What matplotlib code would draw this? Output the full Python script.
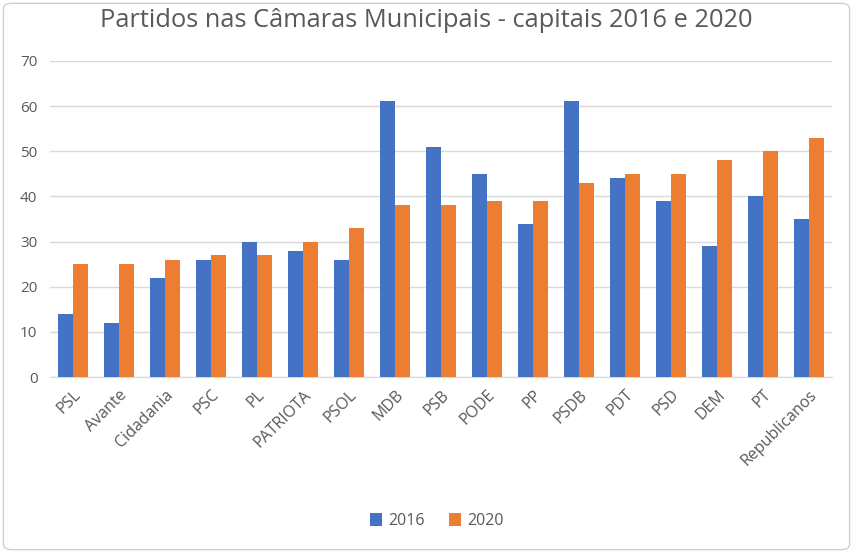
import numpy as np
import matplotlib
matplotlib.use('Agg')
import matplotlib.pyplot as plt
from matplotlib.patches import FancyBboxPatch

plt.rcParams['font.family'] = ['Open Sans', 'DejaVu Sans']

partidos = ['PSL', 'Avante', 'Cidadania', 'PSC', 'PL', 'PATRIOTA', 'PSOL', 'MDB',
            'PSB', 'PODE', 'PP', 'PSDB', 'PDT', 'PSD', 'DEM', 'PT', 'Republicanos']
v2016 = [14, 12, 22, 26, 30, 28, 26, 61, 51, 45, 34, 61, 44, 39, 29, 40, 35]
v2020 = [25, 25, 26, 27, 27, 30, 33, 38, 38, 39, 39, 43, 45, 45, 48, 50, 53]

BLUE = '#4472C4'
ORANGE = '#ED7D31'
TXT = '#595959'
GRID = '#D9D9D9'

fig = plt.figure(figsize=(8.53, 5.53), dpi=100, facecolor='white')
ax = fig.add_axes([0.0586, 0.318, 0.917, 0.572])

x = np.arange(len(partidos))
w = 0.33
ax.bar(x - w/2, v2016, w, color=BLUE, label='2016', zorder=3)
ax.bar(x + w/2, v2020, w, color=ORANGE, label='2020', zorder=3)

ax.set_xlim(-0.5, len(partidos) - 0.5)
ax.set_ylim(0, 70)
ax.set_yticks(range(0, 71, 10))
ax.yaxis.grid(True, color=GRID, linewidth=1, zorder=0)
ax.tick_params(axis='y', length=0, colors=TXT, labelsize=11, pad=9)
ax.tick_params(axis='x', length=0, colors=TXT, labelsize=11.5, pad=7)
ax.set_xticks(x)
ax.set_xticklabels(partidos, rotation=45, ha='right', rotation_mode='anchor')
for s in ['top', 'right', 'left']:
    ax.spines[s].set_visible(False)
ax.spines['bottom'].set_color(GRID)

fig.text(0.5, 0.963, 'Partidos nas Câmaras Municipais - capitais 2016 e 2020',
         ha='center', va='center', fontsize=18.3, color=TXT)

ax.legend(loc='center', bbox_to_anchor=(0.512, 0.058), bbox_transform=fig.transFigure,
          ncol=2, frameon=False, fontsize=11.5, labelcolor=TXT,
          handlelength=0.75, handleheight=0.9, columnspacing=1.5, handletextpad=0.4)

border = FancyBboxPatch((0.004, 0.006), 0.992, 0.988, boxstyle='round,pad=0,rounding_size=0.01',
                        transform=fig.transFigure, facecolor='none', edgecolor='#D0D0D0', linewidth=1)
fig.patches.append(border)

plt.savefig('out.png', dpi=100, facecolor='white')
